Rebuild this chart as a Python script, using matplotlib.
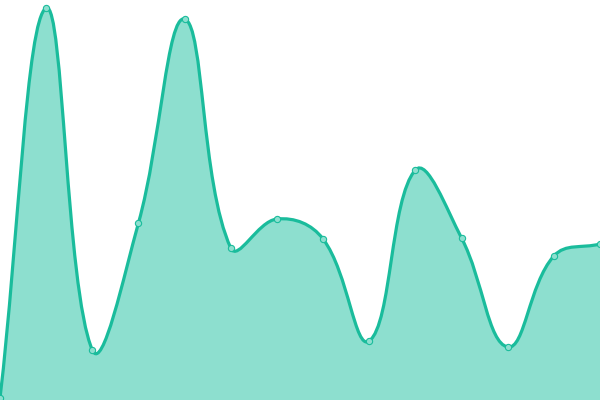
import numpy as np
import matplotlib
matplotlib.use('Agg')
import matplotlib.pyplot as plt
from matplotlib.path import Path
from matplotlib.patches import PathPatch

# Valores (altura en píxeles sobre el borde inferior)
labels = list(range(14))
values = [2, 392, 50, 177, 381, 152, 181, 161, 59, 230, 162, 53, 144, 156]

LINE_COLOR = '#1abc9c'
FILL_COLOR = '#8ddfcf'
TENSION = 0.4


def spline_controls(px, py, t=TENSION):
    """Puntos de control estilo Chart.js (tensión 0.4), en píxeles."""
    n = len(px)
    prev_c, next_c = [], []
    for i in range(n):
        x0, y0 = (px[i - 1], py[i - 1]) if i > 0 else (px[i], py[i])
        x1, y1 = px[i], py[i]
        x2, y2 = (px[i + 1], py[i + 1]) if i < n - 1 else (px[i], py[i])
        d01 = np.hypot(x1 - x0, y1 - y0)
        d12 = np.hypot(x2 - x1, y2 - y1)
        tot = d01 + d12
        s01 = d01 / tot if tot else 0
        s12 = d12 / tot if tot else 0
        fa, fb = t * s01, t * s12
        prev_c.append((x1 - fa * (x2 - x0), y1 - fa * (y2 - y0)))
        next_c.append((x1 + fb * (x2 - x0), y1 + fb * (y2 - y0)))
    return prev_c, next_c


fig = plt.figure(figsize=(6, 4), dpi=100)
ax = fig.add_axes([0, 0, 1, 1])
ax.set_xlim(0, len(labels) - 1)
ax.set_ylim(0, 400)
ax.axis('off')

# Trabajar en píxeles para que la curva salga igual que en el original
sx = 600 / (len(labels) - 1)
px = [i * sx for i in labels]
py = list(values)
prev_c, next_c = spline_controls(px, py)

verts = [(px[0], py[0])]
codes = [Path.MOVETO]
for i in range(len(px) - 1):
    verts += [next_c[i], prev_c[i + 1], (px[i + 1], py[i + 1])]
    codes += [Path.CURVE4] * 3
verts = [(x / sx, y) for x, y in verts]

fill_verts = verts + [(verts[-1][0], 0), (0, 0), verts[0]]
fill_codes = codes + [Path.LINETO, Path.LINETO, Path.CLOSEPOLY]
ax.add_patch(PathPatch(Path(fill_verts, fill_codes), facecolor=FILL_COLOR,
                       edgecolor='none'))
ax.add_patch(PathPatch(Path(verts, codes), facecolor='none',
                       edgecolor=LINE_COLOR, lw=2.3))

ax.plot(labels, values, 'o', ms=4.5, mfc=FILL_COLOR, mec=LINE_COLOR,
        mew=0.8, zorder=5)

fig.savefig('out.png', dpi=100)
